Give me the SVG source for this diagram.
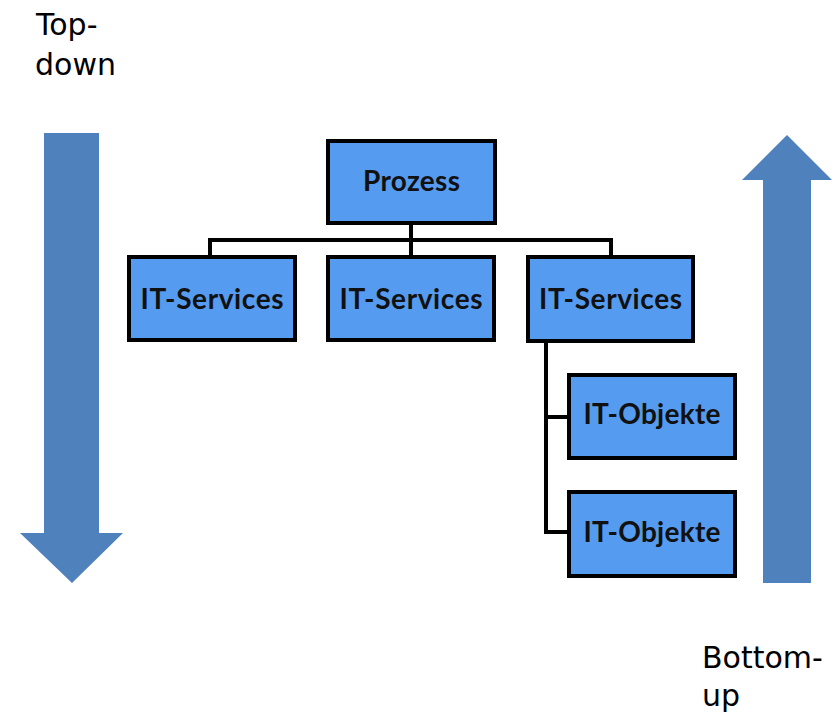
<svg xmlns="http://www.w3.org/2000/svg" width="838" height="715" viewBox="0 0 838 715">
  <style>
    .box { fill: #559BF0; stroke: #000; stroke-width: 4; }
    .lbl { font-family: Lato, "Liberation Sans", sans-serif; font-weight: bold; font-size: 28px; fill: #111; text-anchor: middle; }
    .side { font-family: "DejaVu Sans", Verdana, sans-serif; font-size: 30px; fill: #000; }
    .arrow { fill: #4F81BD; }
    .conn { fill: none; stroke: #000; stroke-width: 4; }
  </style>
  <rect width="838" height="715" fill="#fff"/>

  <!-- direction arrows -->
  <g id="arrow-down">
    <polygon class="arrow" points="44,133 99,133 99,533 123,533 72,583 20,533 44,533"/>
  </g>
  <g id="arrow-up">
    <polygon class="arrow" points="787,135 832,180 811,180 811,583 763,583 763,180 742,180"/>
  </g>

  <!-- side labels -->
  <g id="label-topdown">
    <text class="side" x="36" y="35">Top-</text>
    <text class="side" x="35" y="75">down</text>
  </g>
  <g id="label-bottomup">
    <text class="side" x="702" y="668">Bottom-</text>
    <text class="side" x="702" y="706">up</text>
  </g>

  <!-- connectors -->
  <g id="connectors">
    <path class="conn" d="M411,223 V240"/>
    <path class="conn" d="M210,257 V240 H611 V257"/>
    <path class="conn" d="M411,240 V257"/>
    <path class="conn" d="M546,341 V532 H569"/>
    <path class="conn" d="M546,417 H569"/>
  </g>

  <!-- nodes -->
  <g id="prozess">
    <rect class="box" x="328" y="141" width="167" height="82"/>
    <text class="lbl" x="411.5" y="191" textLength="97">Prozess</text>
  </g>
  <g id="service-1">
    <rect class="box" x="129" y="257" width="166" height="83"/>
    <text class="lbl" x="212" y="309" textLength="143">IT-Services</text>
  </g>
  <g id="service-2">
    <rect class="box" x="328" y="257" width="166" height="83"/>
    <text class="lbl" x="411" y="309" textLength="143">IT-Services</text>
  </g>
  <g id="service-3">
    <rect class="box" x="528" y="257" width="165" height="84"/>
    <text class="lbl" x="610.5" y="309" textLength="143">IT-Services</text>
  </g>
  <g id="objekt-1">
    <rect class="box" x="569" y="375" width="166" height="83"/>
    <text class="lbl" x="652" y="424" textLength="137">IT-Objekte</text>
  </g>
  <g id="objekt-2">
    <rect class="box" x="569" y="492" width="166" height="84"/>
    <text class="lbl" x="652" y="542" textLength="137">IT-Objekte</text>
  </g>
</svg>
